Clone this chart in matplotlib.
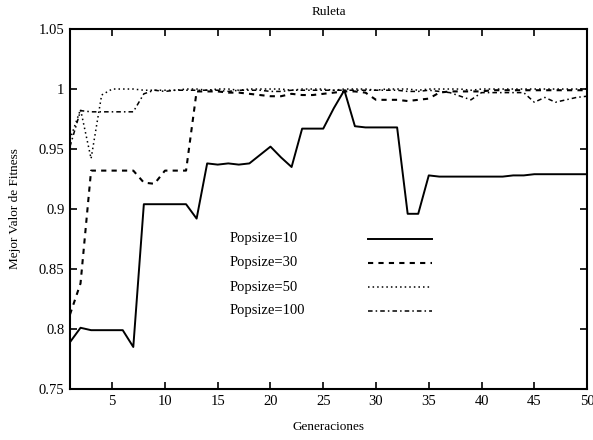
import numpy as np
import matplotlib
matplotlib.use("Agg")
import matplotlib.pyplot as plt
from matplotlib.ticker import FormatStrFormatter

plt.rcParams['font.family'] = ['Liberation Serif', 'DejaVu Serif']

# generations on the x axis
generaciones = np.arange(1, 51)

# best fitness per generation
pop10 = [0.789, 0.801, 0.799, 0.799, 0.799, 0.799, 0.785, 0.904, 0.904, 0.904,
         0.904, 0.904, 0.892, 0.938, 0.937, 0.938, 0.937, 0.938, 0.945, 0.952,
         0.943, 0.935, 0.967, 0.967, 0.967, 0.984, 0.999, 0.969, 0.968, 0.968,
         0.968, 0.968, 0.896, 0.896, 0.928, 0.927, 0.927, 0.927, 0.927, 0.927,
         0.927, 0.927, 0.928, 0.928, 0.929, 0.929, 0.929, 0.929, 0.929, 0.929]
pop30 = [0.812, 0.838, 0.932, 0.932, 0.932, 0.932, 0.932, 0.922, 0.921, 0.932,
         0.932, 0.932, 0.998, 0.998, 0.998, 0.997, 0.997, 0.996, 0.995, 0.994,
         0.994, 0.996, 0.995, 0.995, 0.996, 0.997, 0.998, 0.998, 0.997, 0.991,
         0.991, 0.991, 0.990, 0.991, 0.992, 0.997, 0.998, 0.998, 0.998, 0.998,
         0.999, 0.999, 0.999, 0.999, 0.999, 0.999, 0.999, 0.999, 0.999, 0.999]
pop50 = [0.958, 0.983, 0.942, 0.995, 1.000, 1.000, 1.000, 0.999, 0.999, 0.999,
         0.999, 1.000, 1.000, 0.999, 1.000, 1.000, 0.999, 1.000, 1.000, 1.000,
         1.000, 0.999, 1.000, 1.000, 1.000, 0.999, 1.000, 1.000, 1.000, 0.999,
         1.000, 1.000, 1.000, 0.999, 1.000, 1.000, 1.000, 1.000, 0.999, 1.000,
         1.000, 1.000, 1.000, 1.000, 1.000, 1.000, 1.000, 1.000, 1.000, 1.000]
pop100 = [0.952, 0.982, 0.981, 0.981, 0.981, 0.981, 0.981, 0.996, 0.999, 0.998,
          0.999, 0.999, 0.999, 0.999, 0.999, 0.998, 0.999, 0.999, 0.999, 0.998,
          0.998, 0.999, 0.999, 0.999, 0.999, 0.999, 0.999, 0.999, 0.999, 0.999,
          0.999, 0.999, 0.998, 0.998, 0.999, 0.998, 0.997, 0.994, 0.991, 0.997,
          0.997, 0.997, 0.997, 0.997, 0.989, 0.993, 0.989, 0.991, 0.993, 0.994]

etiquetas = ['Popsize=10', 'Popsize=30', 'Popsize=50', 'Popsize=100']
series = [pop10, pop30, pop50, pop100]
estilos = [('-', 1.4), ((0, (2.5, 2.5)), 1.5), ((0, (1, 2)), 1.1), ((0, (3, 2, 1, 2)), 1.1)]

fig = plt.figure(figsize=(5.93, 4.40), dpi=100)
ax = fig.add_axes([0.118, 0.116, 0.872, 0.818])

for vals, (ls, lw) in zip(series, estilos):
    ax.plot(generaciones, vals, color='black', lw=lw, ls=ls)

ax.set_xlim(1, 50)
ax.set_ylim(0.75, 1.05)
ax.set_xticks(np.arange(5, 51, 5))
ax.set_yticks([0.75, 0.8, 0.85, 0.9, 0.95, 1.0, 1.05])
ax.yaxis.set_major_formatter(FormatStrFormatter('%g'))
ax.tick_params(direction='in', top=True, right=True, length=5, width=1.2,
               labelsize=10.5, pad=4)
for s in ax.spines.values():
    s.set_linewidth(1.5)

ax.set_title('Ruleta', fontsize=9.5, pad=10)
ax.set_xlabel('Generaciones', fontsize=9.5, labelpad=10)
ax.set_ylabel('Mejor Valor de Fitness', fontsize=9.5, labelpad=13)

# legend: label text on the left, line sample on the right (no frame)
fila_y = [0.417, 0.350, 0.283, 0.217]
for lab, (ls, lw), y in zip(etiquetas, estilos, fila_y):
    ax.text(0.309, y, lab, transform=ax.transAxes, fontsize=10.5,
            ha='left', va='center')
    ax.plot([0.576, 0.700], [y, y], transform=ax.transAxes, color='black',
            lw=lw, ls=ls)

fig.savefig('out.png', dpi=100)
